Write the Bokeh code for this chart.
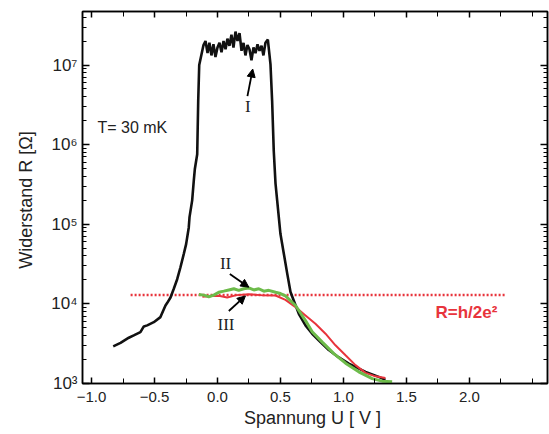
from bokeh.plotting import figure
from bokeh.models import Range1d, LogAxis, LinearAxis, FixedTicker, Label, Arrow, NormalHead
from bokeh.embed import file_html
from bokeh.resources import INLINE

# ---- data ----
black_x = [-0.828, -0.770, -0.704, -0.665, -0.612, -0.585, -0.558, -0.506, -0.453, -0.413, -0.400,
           -0.373, -0.347, -0.320, -0.294, -0.268, -0.249, -0.228, -0.222, -0.201, -0.188, -0.180,
           -0.161, -0.153, -0.145, -0.111, -0.095, -0.079, -0.064, -0.048, -0.032, -0.016, 0.000,
           0.016, 0.032, 0.048, 0.064, 0.079, 0.095, 0.111, 0.127, 0.143, 0.159, 0.175, 0.191,
           0.207, 0.222, 0.238, 0.254, 0.270, 0.286, 0.302, 0.318, 0.334, 0.350, 0.365, 0.381,
           0.400, 0.421, 0.434, 0.447, 0.461, 0.474, 0.500, 0.527, 0.554, 0.580, 0.604, 0.646,
           0.699, 0.752, 0.818, 0.884, 0.961, 1.043, 1.176, 1.281, 1.334]
black_R = [2931, 3236, 3758, 4027, 4426, 5212, 5370, 5888, 6823, 9550, 10230,
           12020, 15490, 20420, 28840, 42170, 56230, 91200, 123000, 199500, 354800, 489800,
           758600, 3.55e6, 1.0e7, 1.78e7, 2.0e7, 1.41e7, 1.9e7, 1.32e7, 1.82e7, 1.26e7, 1.66e7,
           1.9e7, 1.45e7, 2.0e7, 1.58e7, 2.14e7, 1.74e7, 2.4e7, 1.66e7, 2.63e7, 2.0e7, 2.51e7, 1.51e7,
           1.9e7, 1.32e7, 1.78e7, 1.58e7, 1.15e7, 1.66e7, 1.41e7, 1.82e7, 1.51e7, 1.74e7, 1.32e7, 1.9e7,
           2.09e7, 1.02e7, 3.55e6, 8.32e5, 3.24e5, 2.0e5, 75900, 42700, 24000, 14100, 11200, 7500,
           5370, 4220, 3310, 2630, 2140, 1780, 1400, 1210, 1110]

red_x = [-0.12, -0.05, 0.02, 0.077, 0.15, 0.25, 0.35, 0.461, 0.54, 0.62, 0.699, 0.778,
         0.858, 0.937, 1.017, 1.096, 1.176, 1.255, 1.334]
red_R = [12300, 12590, 12590, 12020, 12880, 13180, 12880, 12730, 11220, 9120, 7160, 5620,
         4220, 3020, 2260, 1700, 1360, 1230, 1170]

green_x = [-0.148, -0.109, -0.069, -0.029, 0.010, 0.050, 0.090, 0.130, 0.169, 0.209, 0.249,
           0.288, 0.328, 0.368, 0.407, 0.461, 0.50, 0.54, 0.62, 0.699, 0.752, 0.832, 0.924,
           1.017, 1.122, 1.229, 1.308, 1.387]
green_R = [13120, 12880, 12300, 12880, 14000, 14450, 14960, 15490, 14790, 15490, 15850,
           14960, 15490, 14450, 14790, 14000, 13490, 12590, 9550, 6170, 4470, 3310, 2370,
           1800, 1400, 1150, 1070, 1050]

quantum_x = [-0.69, 2.29]
quantum_R = [12906, 12906]

x_ticks = [-1.0, -0.5, 0.0, 0.5, 1.0, 1.5, 2.0]
x_tick_labels = ["\u22121.0", "\u22120.5", "0.0", "0.5", "1.0", "1.5", "2.0"]
x_minor = [-0.75, -0.25, 0.25, 0.75, 1.25, 1.75, 2.25, 2.5]
y_ticks = [1e3, 1e4, 1e5, 1e6, 1e7]
y_tick_labels = ["10\u00b3", "10\u2074", "10\u2075", "10\u2076", "10\u2077"]
y_minor = [k * d for d in [1e3, 1e4, 1e5, 1e6, 1e7] for k in range(2, 10)]

FONT = "Liberation Sans"
SERIF = "Liberation Serif"
RED = "#e8343c"
GREEN = "#6dbb4a"
INK = "#222222"

p = figure(width=549, height=434, x_range=Range1d(-1.072, 2.621), y_range=Range1d(1e3, 4.7e7),
           y_axis_type="log", output_backend="svg", toolbar_location=None,
           min_border_left=82, min_border_right=2, min_border_top=11, min_border_bottom=51)
p.xgrid.visible = False
p.ygrid.visible = False
p.outline_line_color = "black"
p.outline_line_width = 1.5
p.background_fill_color = "white"
p.border_fill_color = "white"

def style(ax, labels=True):
    ax.axis_line_color = "black"
    ax.axis_line_width = 1.5
    ax.major_tick_in = 6
    ax.major_tick_out = 0
    ax.minor_tick_in = 3
    ax.minor_tick_out = 0
    ax.major_tick_line_width = 1.5
    ax.minor_tick_line_width = 1
    ax.major_label_text_font = FONT
    ax.major_label_text_color = INK
    if not labels:
        ax.major_label_text_font_size = "1px"
        ax.major_label_text_color = None
        ax.major_label_standoff = 0

xt = FixedTicker(ticks=x_ticks, minor_ticks=x_minor)
yt = FixedTicker(ticks=y_ticks, minor_ticks=y_minor)

xa = p.xaxis[0]
xa.ticker = xt
xa.major_label_overrides = dict(zip(x_ticks, x_tick_labels))
style(xa)
xa.minor_tick_in = 5
xa.major_label_text_font_size = "15px"
xa.major_label_standoff = 8
xa.axis_label = "Spannung  U [ V ]"
xa.axis_label_text_font = FONT
xa.axis_label_text_font_size = "18px"
xa.axis_label_text_font_style = "normal"
xa.axis_label_text_color = INK
xa.axis_label_standoff = 3

ya = p.yaxis[0]
ya.ticker = yt
ya.major_label_overrides = dict(zip(y_ticks, y_tick_labels))
style(ya)
ya.major_tick_in = 7
ya.minor_tick_in = 4
ya.major_label_text_font_size = "17px"
ya.major_label_standoff = 5
ya.axis_label = "Widerstand  R [\u03a9]"
ya.axis_label_text_font = FONT
ya.axis_label_text_font_size = "18px"
ya.axis_label_text_font_style = "normal"
ya.axis_label_text_color = INK
ya.axis_label_standoff = 12

top = LinearAxis(ticker=xt)
style(top, labels=False)
top.minor_tick_in = 5
p.add_layout(top, "above")
right = LogAxis(ticker=yt)
style(right, labels=False)
right.major_tick_in = 7
right.minor_tick_in = 4
p.add_layout(right, "right")

p.line(quantum_x, quantum_R, line_color=RED, line_width=2.5, line_dash="2 2")
p.line(black_x, black_R, line_color="#111111", line_width=2.6)
p.line(red_x, red_R, line_color=RED, line_width=2)
p.line(green_x, green_R, line_color=GREEN, line_width=3)

p.add_layout(Label(x=-0.953, y=1.64e6, text="T= 30 mK", text_font=FONT, text_font_size="16px",
                   text_align="left", text_baseline="middle", text_color=INK))
p.add_layout(Label(x=1.731, y=7870, text="R=h/2e\u00b2", text_font=FONT, text_font_size="17px",
                   text_font_style="bold", text_align="left", text_baseline="middle", text_color=RED))
p.add_layout(Label(x=0.242, y=3.0e6, text="I", text_font=SERIF, text_font_size="17px",
                   text_align="center", text_baseline="middle", text_color=INK))
p.add_layout(Label(x=0.064, y=3.24e4, text="II", text_font=SERIF, text_font_size="17px",
                   text_align="center", text_baseline="middle", text_color=INK))
p.add_layout(Label(x=0.068, y=5570, text="III", text_font=SERIF, text_font_size="17px",
                   text_align="center", text_baseline="middle", text_color=INK))

def arrow(x0, y0, x1, y1):
    p.add_layout(Arrow(end=NormalHead(size=8, fill_color="black", line_color="black"),
                       x_start=x0, y_start=y0, x_end=x1, y_end=y1,
                       line_color="black", line_width=1.8))

arrow(0.238, 4.07e6, 0.280, 8.9e6)
arrow(0.098, 2.37e4, 0.249, 1.62e4)
arrow(0.090, 8130, 0.222, 12590)

open("out.html", "w").write(file_html(p, INLINE))
